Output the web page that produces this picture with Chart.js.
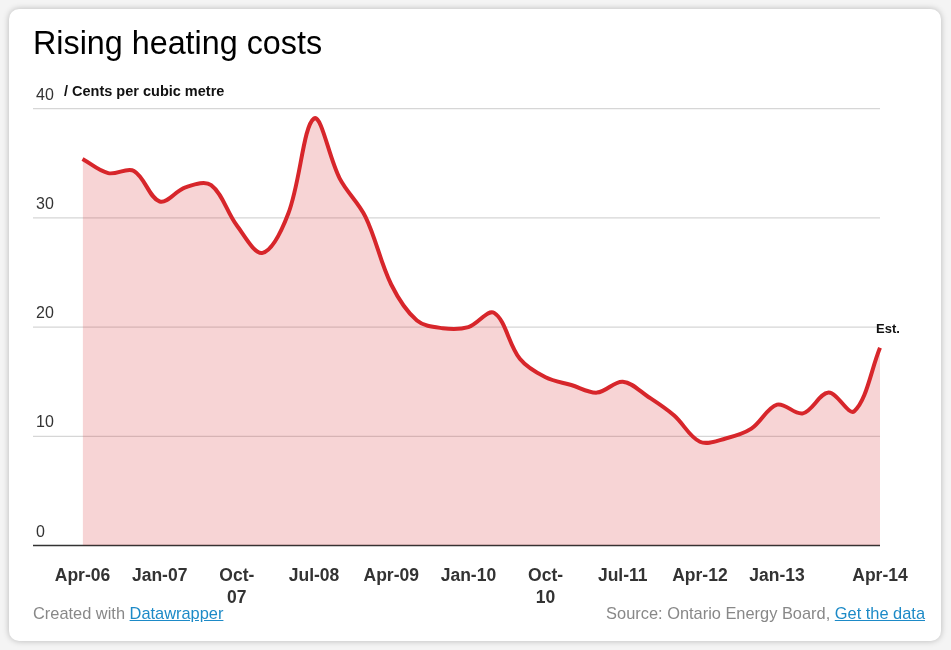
<!DOCTYPE html>
<html>
<head>
<meta charset="utf-8">
<script src="https://cdn.jsdelivr.net/npm/chart.js@4"></script>
<style>
  body { margin: 0; background: #f4f4f4; font-family: "Liberation Sans", Arial, sans-serif; }
  #card { position: absolute; left: 9px; top: 9px; width: 932px; height: 632px; background: #fff;
          border-radius: 10px; box-shadow: 0 0 6px rgba(0,0,0,0.25); }
  #wrap { position: absolute; left: 0; top: 0; width: 951px; height: 650px; }
  h1 { position: absolute; left: 33px; top: 25px; margin: 0; font-size: 32.3px; font-weight: normal; color: #000; }
  .foot { position: absolute; top: 604px; font-size: 16.4px; color: #888; }
  .foot a { color: #1d8ac7; text-decoration: underline; }
</style>
</head>
<body>
<div id="card"></div>
<div id="wrap"><canvas id="chart"></canvas></div>
<h1>Rising heating costs</h1>
<div class="foot" style="left:33px">Created with <a>Datawrapper</a></div>
<div class="foot" style="right:26px">Source: Ontario Energy Board, <a>Get the data</a></div>
<script>
//----- Data -----//

var quarters = ['Apr-06','Jul-06','Oct-06','Jan-07','Apr-07','Jul-07','Oct-07','Jan-08','Apr-08','Jul-08',
  'Oct-08','Jan-09','Apr-09','Jul-09','Oct-09','Jan-10','Apr-10','Jul-10','Oct-10','Jan-11','Apr-11',
  'Jul-11','Oct-11','Jan-12','Apr-12','Jul-12','Oct-12','Jan-13','Apr-13','Jul-13','Oct-13','Apr-14']
var cents = [35.4, 34.1, 34.3, 31.5, 32.8, 33.0, 29.3, 26.8, 30.4, 39.1, 33.6, 30.1, 23.9, 20.6, 19.9, 20.0,
  21.3, 17.1, 15.4, 14.7, 14.0, 15.0, 13.6, 11.9, 9.5, 9.8, 10.7, 12.9, 12.1, 14.0, 12.3, 18.1]
var yTicks = [0, 10, 20, 30, 40]
var unitLabel = '/ Cents per cubic metre'
var lastNote = 'Est.'

//----- Plugin: grid, y labels, note -----//

var decor = {
  id: 'decor',
  beforeDatasetsDraw(chart) {
    var ctx = chart.ctx, y = chart.scales.y, area = chart.chartArea
    ctx.save()
    yTicks.forEach(function (v) {
      var py = y.getPixelForValue(v)
      ctx.beginPath()
      ctx.moveTo(33, py)
      ctx.lineTo(area.right, py)
      ctx.lineWidth = v === 0 ? 1.5 : 1.2
      ctx.strokeStyle = v === 0 ? '#333' : '#d6d6d6'
      ctx.stroke()
      ctx.fillStyle = '#333'
      ctx.font = '16px "Liberation Sans", Arial, sans-serif'
      ctx.textBaseline = 'alphabetic'
      ctx.fillText(String(v), 36, py - 9)
    })
    ctx.font = 'bold 14.5px "Liberation Sans", Arial, sans-serif'
    ctx.fillStyle = '#111'
    ctx.fillText(unitLabel, 64, y.getPixelForValue(40) - 13)
    ctx.restore()
  },
  afterDatasetsDraw(chart) {
    var ctx = chart.ctx
    var pt = chart.getDatasetMeta(0).data[cents.length - 1]
    ctx.save()
    ctx.font = 'bold 13px "Liberation Sans", Arial, sans-serif'
    ctx.fillStyle = '#111'
    ctx.textAlign = 'center'
    ctx.fillText(lastNote, pt.x + 8, pt.y - 15)
    ctx.restore()
  }
}

//----- Chart -----//

new Chart(document.getElementById('chart'), {
  type: 'line',
  data: {
    labels: quarters,
    datasets: [{
      data: cents,
      borderColor: '#d7262b',
      borderWidth: 4,
      backgroundColor: 'rgba(214, 38, 43, 0.2)',
      fill: 'origin',
      pointRadius: 0,
      tension: 0.35
    }]
  },
  options: {
    responsive: true,
    maintainAspectRatio: false,
    animation: false,
    layout: { padding: { left: 82.5, right: 71, top: 108.7, bottom: 4.5 } },
    plugins: { legend: { display: false }, tooltip: { enabled: false } },
    scales: {
      y: { display: false, min: 0, max: 40 },
      x: {
        grid: { display: false, drawTicks: false },
        border: { display: false },
        afterFit: function (scale) { scale.height = 100 },
        ticks: {
          autoSkip: false,
          maxRotation: 0,
          padding: 20,
          color: '#333',
          font: { family: '"Liberation Sans", Arial, sans-serif', size: 17.5, weight: 'bold', lineHeight: 1.25 },
          callback: function (v, i) {
            var show = (i % 3 === 0 && i !== 30) || i === quarters.length - 1
            if (!show) return ''
            var s = quarters[i]
            return s.indexOf('Oct') === 0 ? [s.slice(0, 4), s.slice(4)] : s
          }
        }
      }
    }
  },
  plugins: [decor]
})
</script>
</body>
</html>
